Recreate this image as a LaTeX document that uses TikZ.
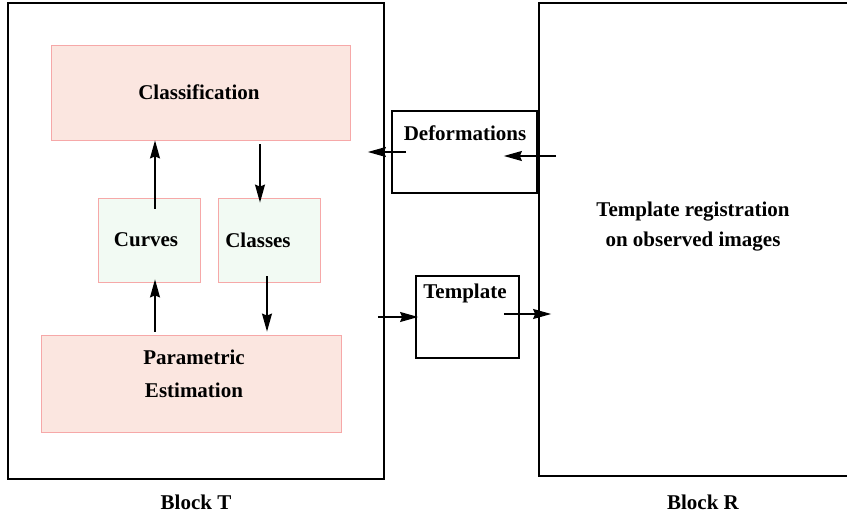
\documentclass[tikz,border=0pt]{standalone}
\usepackage{fontspec}
\setmainfont{Liberation Serif}
\usetikzlibrary{arrows.meta,positioning}
\definecolor{boxpink}{RGB}{251,230,224}
\definecolor{boxgreen}{RGB}{242,250,243}
\definecolor{edgepink}{RGB}{246,168,168}
\tikzset{%
    >={Stealth[length=18pt,width=10pt,inset=2pt]},
    blk/.style={draw,line width=1.8pt,inner sep=0pt},
    est/.style={draw=edgepink,fill=boxpink,line width=0.9pt,inner sep=0pt},
    sub/.style={draw=edgepink,fill=boxgreen,line width=0.9pt,inner sep=0pt},
    txt/.style={font=\fontsize{21}{30}\selectfont\bfseries,inner sep=0pt},
    flow/.style={->,line width=1.2pt}
}

\begin{document}
\begin{tikzpicture}[x=1pt,y=-1pt]
            \useasboundingbox (0,0) rectangle (847,518);
            \node [blk,minimum width=376pt,minimum height=476pt] (blk-t) at (196,241) {};
            \node [blk,minimum width=321pt,minimum height=473pt] (blk-r) at (699.5,239.5) {};
            \node [txt] (lbl-t) at (196,502) {Block T};
            \node [txt] (lbl-r) at (703,502) {Block R};
            %%%%%
            \node [est,minimum width=299pt,minimum height=95pt] (cls) at (200.5,92.5) {};
            \node [txt] (cls-t) at (199,92) {Classification};
            \node [sub,minimum width=102pt,minimum height=84pt] (crv) at (149,240) {};
            \node [txt] (crv-t) at (146,240) {Curves};
            \node [sub,minimum width=102pt,minimum height=84pt] (clss) at (269,240) {};
            \node [txt] (clss-t) at (258,240) {Classes};
            \node [est,minimum width=300pt,minimum height=97pt] (par) at (191,383.5) {};
            \node [txt,align=center,font=\fontsize{21}{33}\selectfont\bfseries] (par-t) at (194,374) {Parametric\\Estimation};
            %%%%%
            \node [blk,minimum width=145pt,minimum height=82pt] (dfm) at (464.5,152) {};
            \node [txt] (dfm-t) at (465,133) {Deformations};
            \node [blk,minimum width=103pt,minimum height=82pt] (tpl) at (467.5,317) {};
            \node [txt,anchor=base] (tpl-t) at (465,299) {Template};
            \node [txt,align=center] (reg-t) at (693,227) {Template registration\\on observed images};
            %%%%%
            \draw[flow] ([xshift=6pt,yshift=-11pt]crv.north) -- ([xshift=6pt]crv.north |- cls.south);
            \draw[flow] ([xshift=-9pt,yshift=-4pt]clss.north |- cls.south) -- ([xshift=-9pt,yshift=-5pt]clss.north);
            \draw[flow] ([xshift=-2pt,yshift=6pt]clss.south) -- ([xshift=-2pt,yshift=3pt]clss.south |- par.north);
            \draw[flow] ([xshift=6pt,yshift=3pt]crv.south |- par.north) -- ([xshift=6pt,yshift=3pt]crv.south);
            \draw[flow] ([xshift=15pt]dfm.west) -- ([xshift=-17pt]blk-t.east |- dfm.west);
            \draw[flow] ([xshift=18pt,yshift=-4pt]blk-r.west |- dfm.east) -- ([xshift=-34pt,yshift=-4pt]dfm.east);
            \draw[flow] ([xshift=-7pt]blk-t.east |- tpl.west) -- ([xshift=3pt]tpl.west);
            \draw[flow] ([xshift=-16pt,yshift=3pt]tpl.east) -- ([xshift=13pt,yshift=3pt]blk-r.west |- tpl.east);
\end{tikzpicture}
\end{document}
